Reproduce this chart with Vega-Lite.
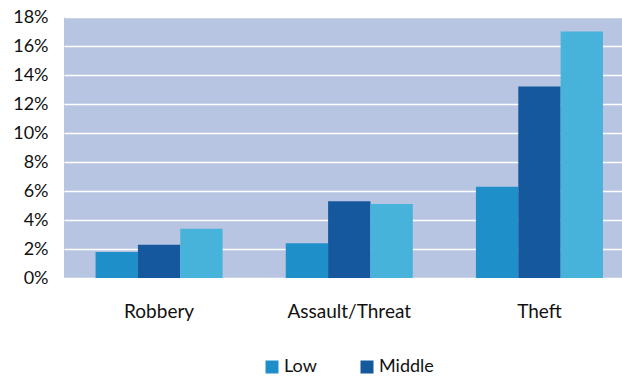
{
  "$schema": "https://vega.github.io/schema/vega-lite/v6.json",
  "autosize": {"type": "none"},
  "padding": {"left": 64, "top": 17, "right": 0, "bottom": 98},
  "width": 558,
  "height": 261,
  "background": "#ffffff",
  "data": {
    "values": [
      {"crime": "Robbery", "income": "Low", "rate": 0.018},
      {"crime": "Robbery", "income": "Middle", "rate": 0.023},
      {"crime": "Robbery", "income": "High", "rate": 0.034},
      {"crime": "Assault/Threat", "income": "Low", "rate": 0.024},
      {"crime": "Assault/Threat", "income": "Middle", "rate": 0.053},
      {"crime": "Assault/Threat", "income": "High", "rate": 0.051},
      {"crime": "Theft", "income": "Low", "rate": 0.063},
      {"crime": "Theft", "income": "Middle", "rate": 0.132},
      {"crime": "Theft", "income": "High", "rate": 0.170}
    ]
  },
  "mark": {"type": "bar"},
  "encoding": {
    "x": {
      "field": "crime",
      "type": "nominal",
      "sort": ["Robbery", "Assault/Threat", "Theft"],
      "scale": {"paddingInner": 0.332, "paddingOuter": 0.133, "align": 0.624},
      "axis": {
        "title": null,
        "grid": false,
        "labelAngle": 0,
        "ticks": false,
        "domain": false,
        "labelPadding": 24,
        "labelFontSize": 19,
        "labelFont": "Lato",
        "labelColor": "#111111"
      }
    },
    "xOffset": {
      "field": "income",
      "type": "nominal",
      "sort": ["Low", "Middle", "High"],
      "scale": {"paddingInner": 0, "paddingOuter": 0}
    },
    "y": {
      "field": "rate",
      "type": "quantitative",
      "scale": {"domain": [0, 0.18], "nice": false},
      "axis": {
        "title": null,
        "grid": true,
        "format": ".0%",
        "values": [0, 0.02, 0.04, 0.06, 0.08, 0.1, 0.12, 0.14, 0.16, 0.18],
        "ticks": false,
        "domain": false,
        "labelPadding": 16,
        "labelFontSize": 18,
        "labelFont": "Lato",
        "labelColor": "#111111",
        "gridColor": "#ffffff",
        "gridWidth": 1.5,
        "gridOpacity": 1
      }
    },
    "color": {
      "field": "income",
      "type": "nominal",
      "sort": ["Low", "Middle", "High"],
      "scale": {"domain": ["Low", "Middle", "High"], "range": ["#1F8FCA", "#15589E", "#47B3DB"]},
      "legend": {
        "title": null,
        "values": ["Low", "Middle"],
        "orient": "none",
        "direction": "horizontal",
        "legendX": 199,
        "legendY": 341,
        "symbolType": "square",
        "symbolSize": 169,
        "symbolStrokeWidth": 0,
        "symbolOpacity": 1,
        "columnPadding": 41,
        "labelOffset": 3,
        "labelFontSize": 18,
        "labelFont": "Lato",
        "labelColor": "#111111"
      }
    }
  },
  "config": {
    "view": {"fill": "#B7C5E2", "stroke": null}
  }
}
